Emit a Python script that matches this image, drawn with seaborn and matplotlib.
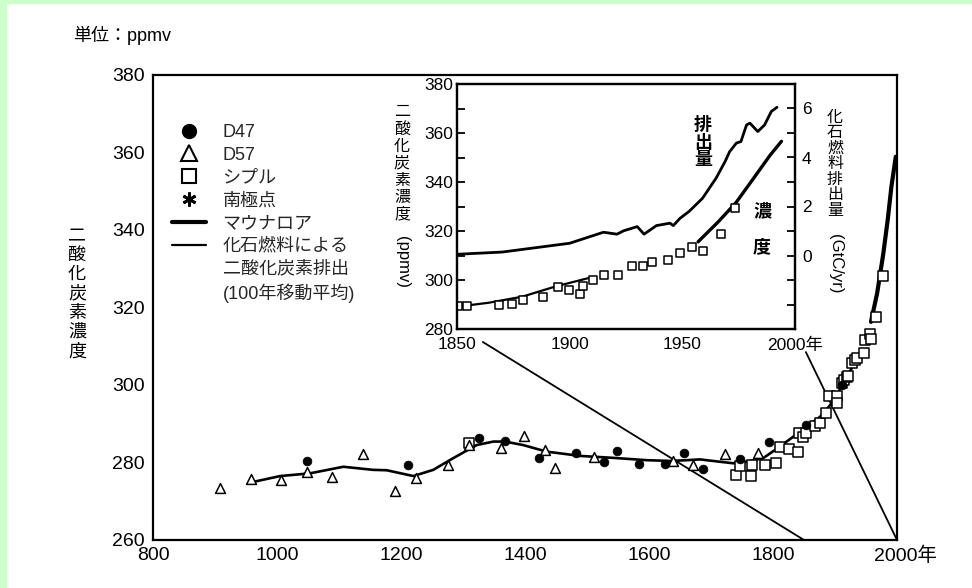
import matplotlib
matplotlib.use("Agg")
import matplotlib.pyplot as plt
import matplotlib.transforms as mtransforms
from matplotlib.lines import Line2D
from matplotlib.patches import Rectangle
import seaborn as sns

# ---------------- data ----------------
# Main panel: ice-core data (year, ppmv)
d47_year = [1048, 1212, 1326, 1368, 1423, 1482, 1527, 1549, 1584, 1626, 1657, 1687,
            1746, 1794, 1853, 1911]
d47_ppm = [280.5, 279.4, 286.4, 285.6, 281.1, 282.5, 280.2, 283.0, 279.5, 279.5, 282.4,
           278.3, 280.8, 285.4, 289.7, 300.0]

d57_year = [908, 958, 1006, 1048, 1088, 1138, 1191, 1224, 1276, 1310, 1361, 1398, 1432,
            1448, 1511, 1639, 1671, 1723, 1776]
d57_ppm = [273.3, 275.7, 275.5, 277.6, 276.3, 282.1, 272.6, 276.1, 279.4, 284.5, 283.7,
           286.9, 283.2, 278.5, 281.3, 280.5, 279.4, 282.2, 282.4]

siple_year = [1310, 1740, 1746, 1765, 1766, 1787, 1805, 1812, 1825, 1841, 1842, 1848,
              1854, 1867, 1875, 1885, 1891, 1903, 1904, 1911, 1914, 1919, 1921, 1927,
              1932, 1935, 1947, 1948, 1957, 1958, 1966, 1978]
siple_ppm = [285.0, 276.8, 279.1, 276.6, 279.4, 279.4, 280.0, 283.9, 283.6, 282.8, 287.5,
             286.5, 287.5, 289.5, 290.3, 292.7, 297.2, 297.2, 295.3, 300.4, 301.2, 302.1,
             302.3, 305.8, 306.5, 307.0, 308.3, 311.5, 313.2, 311.8, 317.6, 328.1]

# smoothed curve (100-year moving average)
smooth_year = [962, 1005, 1053, 1107, 1155, 1177, 1220, 1252, 1284, 1322, 1349, 1368,
               1397, 1435, 1489, 1542, 1596, 1634, 1661, 1682, 1714, 1736, 1757, 1784,
               1811, 1844, 1876, 1897, 1913, 1930]
smooth_ppm = [275.0, 276.5, 277.2, 278.9, 278.1, 278.0, 276.5, 278.1, 281.1, 284.5, 285.4,
              285.4, 284.5, 282.8, 281.7, 281.2, 280.6, 280.4, 280.6, 280.8, 280.2, 279.8,
              280.2, 281.1, 284.1, 288.0, 291.8, 295.7, 300.4, 305.2]

# Mauna Loa
mlo_year = [1958, 1968, 1978, 1985, 1991, 1998]
mlo_ppm = [316.3, 323.7, 334.0, 342.6, 351.2, 358.9]

# Inset: Siple squares, concentration curves, emissions
in_sq_year = [1850.5, 1854.3, 1868.5, 1874.2, 1879.4, 1888.0, 1894.7, 1899.8, 1904.6,
              1906.0, 1910.5, 1915.4, 1921.6, 1927.6, 1932.7, 1936.4, 1943.7, 1948.9,
              1954.1, 1959.0, 1967.0, 1973.5]
in_sq_ppm = [289.2, 289.5, 289.8, 290.4, 291.8, 293.2, 297.3, 296.0, 294.3, 297.7, 299.8,
             301.9, 302.0, 305.7, 305.7, 307.2, 308.2, 311.2, 313.6, 312.0, 318.8, 329.3]

in_thin_year = [1850, 1864, 1879, 1893.5, 1908, 1911]
in_thin_ppm = [289.1, 290.7, 293.2, 297.3, 300.7, 301.3]

in_thick_year = [1957, 1966, 1974, 1982, 1989, 1994]
in_thick_ppm = [315.6, 323.8, 331.8, 342.0, 351.0, 356.6]

emis_year = [1850, 1870, 1900, 1915, 1921, 1924, 1930, 1933, 1938.5, 1944.5, 1946, 1949,
             1953, 1959, 1965, 1969, 1971, 1974, 1976, 1978.5, 1980, 1983.5, 1986.5,
             1989.5, 1992]
emis_gtc = [0.05, 0.14, 0.50, 0.95, 0.87, 1.01, 1.18, 0.87, 1.22, 1.32, 1.22, 1.52, 1.80,
            2.34, 3.16, 3.84, 4.24, 4.59, 4.65, 5.33, 5.40, 5.06, 5.33, 5.88, 6.05]

main_xticks = [800, 1000, 1200, 1400, 1600, 1800, 2000]
main_xticklabels = ["800", "1000", "1200", "1400", "1600", "1800", "2000年"]
main_yticks = [260, 280, 300, 320, 340, 360, 380]
inset_xticks = [1850, 1900, 1950, 2000]
inset_xticklabels = ["1850", "1900", "1950", "2000年"]
inset_yticks = [280, 300, 320, 340, 360, 380]
inset_rticks = [0, 2, 4, 6]

legend_labels = ["D47", "D57", "シプル", "南極点", "マウナロア", "化石燃料による",
                 "二酸化炭素排出", "(100年移動平均)"]

# ---------------- style ----------------
sns.set_style("white")
plt.rcParams['font.family'] = ['Liberation Sans', 'Noto Sans CJK JP', 'DejaVu Sans']
plt.rcParams['axes.linewidth'] = 1.6
plt.rcParams['axes.edgecolor'] = 'black'

W, H = 972, 588
fig = plt.figure(figsize=(W / 100, H / 100), dpi=100)
fig.patch.set_facecolor('white')
green = '#ccffcc'
fig.add_artist(Rectangle((0, 0), 6 / W, 1, transform=fig.transFigure, color=green, zorder=0))
fig.add_artist(Rectangle((0, 1 - 3 / H), 1, 3 / H, transform=fig.transFigure, color=green, zorder=0))


def fx(px):
    return px / W


def fy(py):
    return 1 - py / H


# ---------------- main axes ----------------
ax = fig.add_axes([fx(153), fy(540), 744 / W, 465 / H])
ax.set_facecolor('white')

# connector lines from inset to main axis
ax.plot([1332, 1850], [311.1, 260], color='black', lw=1.3, zorder=1)
ax.plot([1853, 2000], [308.5, 260], color='black', lw=1.3, zorder=1)

sns.lineplot(x=smooth_year, y=smooth_ppm, ax=ax, color='black', lw=1.9, zorder=3)
sns.lineplot(x=mlo_year, y=mlo_ppm, ax=ax, color='black', lw=3.0, zorder=3)
sns.scatterplot(x=siple_year, y=siple_ppm, ax=ax, marker='s', s=50, facecolor='white',
                edgecolor='black', linewidth=1.1, zorder=4)
sns.scatterplot(x=d57_year, y=d57_ppm, ax=ax, marker='^', s=50, facecolor='white',
                edgecolor='black', linewidth=1.1, zorder=4)
sns.scatterplot(x=d47_year, y=d47_ppm, ax=ax, marker='o', s=40, color='black',
                edgecolor='black', linewidth=0.5, zorder=5)

ax.set_xlim(800, 2000)
ax.set_ylim(260, 380)
ax.set_xticks(main_xticks)
ax.set_xticklabels(main_xticklabels)
ax.set_xticks(range(900, 2000, 200), minor=True)
ax.set_yticks(main_yticks)
ax.set_yticks(range(270, 380, 20), minor=True)
ax.tick_params(axis='both', which='both', direction='in', color='black', width=1.3,
               labelsize=14, labelcolor='black')
ax.tick_params(axis='both', which='major', length=7)
ax.tick_params(axis='both', which='minor', length=7)
ax.tick_params(axis='x', pad=5)
ax.tick_params(axis='y', pad=6)
for s in ax.spines.values():
    s.set_visible(True)
    s.set_color('black')
# shift "2000年" so the digits stay under the tick
lab = ax.get_xticklabels()[-1]
lab.set_transform(lab.get_transform() + mtransforms.ScaledTranslation(0.08, 0, fig.dpi_scale_trans))
ax.set_xlabel('')
ax.set_ylabel('')

# legend
handles = [
    Line2D([], [], ls='none', marker='o', color='black', ms=10),
    Line2D([], [], ls='none', marker='^', mfc='white', mec='black', mew=1.5, ms=11),
    Line2D([], [], ls='none', marker='s', mfc='white', mec='black', mew=1.5, ms=10),
    Line2D([], [], ls='none', marker=(6, 2, 0), color='black', mew=2, ms=10),
    Line2D([], [], color='black', lw=3.0),
    Line2D([], [], color='black', lw=1.6),
    Line2D([], [], ls='none'),
    Line2D([], [], ls='none'),
]
leg = ax.legend(handles=handles, labels=legend_labels, loc='upper left',
                bbox_to_anchor=(fx(172), fy(124)), bbox_transform=fig.transFigure,
                frameon=False, fontsize=13, handlelength=1.9, handletextpad=0.9,
                labelspacing=0.32, borderpad=0, borderaxespad=0)

# ---------------- inset axes ----------------
axi = fig.add_axes([fx(457), fy(329), 338 / W, 245 / H])
axi.set_facecolor('white')
sns.lineplot(x=in_thin_year, y=in_thin_ppm, ax=axi, color='black', lw=1.6)
sns.lineplot(x=in_thick_year, y=in_thick_ppm, ax=axi, color='black', lw=2.4)
sns.scatterplot(x=in_sq_year, y=in_sq_ppm, ax=axi, marker='s', s=38, facecolor='white',
                edgecolor='black', linewidth=1.1, zorder=4)
axi.set_xlim(1850, 2000)
axi.set_ylim(280, 380)
axi.set_xticks(inset_xticks)
axi.set_xticklabels(inset_xticklabels)
axi.set_yticks(inset_yticks)
axi.set_yticks(range(290, 380, 20), minor=True)
axi.tick_params(axis='both', which='both', direction='in', color='black', width=1.3,
                labelsize=12.5, labelcolor='black', length=6)
axi.tick_params(axis='x', pad=6)
axi.tick_params(axis='y', pad=3)
axi.set_xlabel('')
axi.set_ylabel('')
for s in axi.spines.values():
    s.set_visible(True)
    s.set_color('black')

axr = axi.twinx()
sns.lineplot(x=emis_year, y=emis_gtc, ax=axr, color='black', lw=2.0)
axr.set_ylim(-3, 7)
axr.set_yticks(inset_rticks)
axr.set_yticks([-2, -1, 1, 3, 5], minor=True)
axr.tick_params(axis='y', which='both', direction='in', color='black', width=1.3,
                labelsize=12.5, labelcolor='black', length=6, pad=5)
axr.set_ylabel('')
for s in axr.spines.values():
    s.set_color('black')


# ---------------- texts ----------------
def vtext(x_px, first_center_px, chars, step_px, size, weight='normal'):
    for i, ch in enumerate(chars):
        fig.text(fx(x_px), fy(first_center_px + i * step_px), ch, ha='center', va='center',
                 fontsize=size, fontweight=weight, color='black')


fig.text(fx(73), fy(35), "単位：ppmv", ha='left', va='center', fontsize=13, color='black')

vtext(77, 236, "二酸化炭素濃度", 19.3, 13)

vtext(402, 112, "二酸化炭素濃度", 17.0, 11.5)
fig.text(fx(402), fy(262), "(ppmv)", rotation=270, ha='center', va='center',
         fontsize=12, color='black')

vtext(835, 117, "化石燃料排出量", 15.5, 11.5)
fig.text(fx(835), fy(264), "(GtC/yr)", rotation=270, ha='center', va='center',
         fontsize=12, color='black')

vtext(703, 125, "排出量", 18, 13, 'bold')
vtext(762, 212, "濃", 18, 13, 'bold')
vtext(762, 248, "度", 18, 13, 'bold')

fig.savefig("out.png", dpi=100, facecolor=fig.get_facecolor())
